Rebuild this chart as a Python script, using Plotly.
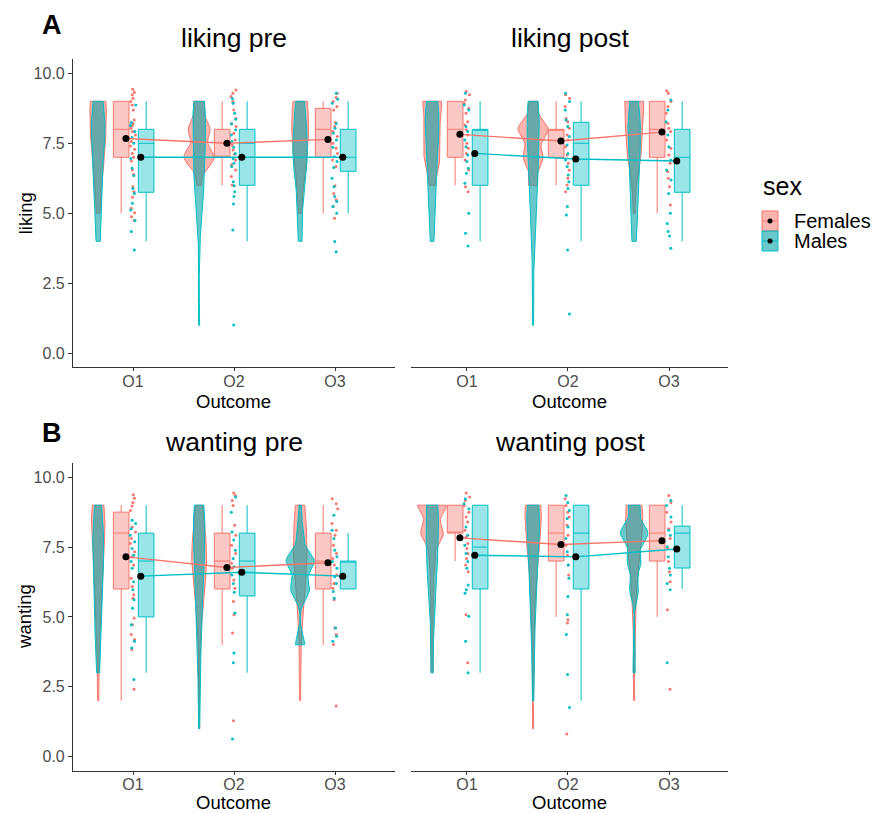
import numpy as np
import plotly.graph_objects as go

# ---------------- data ----------------
outcomes = ["O1", "O2", "O3"]
levels = [1, 2, 3, 4, 5, 6, 7, 8, 9]
panel_titles = ["liking pre", "liking post", "wanting pre", "wanting post"]
y_titles = ["liking", "wanting"]
y_tick_vals = [0, 2.5, 5, 7.5, 10]
y_tick_text = ["0.0", "2.5", "5.0", "7.5", "10.0"]

# rating counts (values 1..9) per outcome -> used for the violins
liking_pre_counts_f = [[0, 0, 0, 0, 2, 4, 8, 10, 11], [0, 0, 0, 0, 0, 2, 14, 10, 5], [0, 0, 0, 0, 2, 3, 8, 10, 9]]
liking_pre_counts_m = [[0, 0, 0, 3, 4, 5, 6, 10, 7], [1, 0, 0, 1, 3, 7, 7, 9, 8], [0, 0, 0, 3, 2, 5, 10, 8, 6]]
liking_post_counts_f = [[0, 0, 0, 0, 0, 3, 10, 9, 12], [0, 0, 0, 0, 0, 4, 9, 14, 4], [0, 0, 0, 0, 1, 2, 8, 10, 12]]
liking_post_counts_m = [[0, 0, 0, 3, 3, 6, 6, 10, 9], [1, 0, 1, 2, 3, 6, 7, 8, 8], [0, 0, 0, 3, 4, 5, 7, 8, 6]]
wanting_pre_counts_f = [[0, 1, 1, 1, 2, 4, 5, 9, 9], [1, 0, 0, 1, 2, 6, 9, 7, 4], [0, 1, 0, 1, 2, 5, 8, 7, 6]]
wanting_pre_counts_m = [[0, 0, 2, 3, 5, 5, 7, 7, 5], [1, 0, 2, 2, 3, 5, 6, 7, 7], [0, 0, 0, 4, 0, 8, 12, 3, 1]]
wanting_post_counts_f = [[0, 0, 1, 1, 1, 2, 3, 11, 14], [1, 0, 0, 1, 2, 2, 6, 8, 12], [0, 1, 0, 0, 2, 2, 6, 9, 12]]
wanting_post_counts_m = [[0, 0, 2, 1, 2, 5, 7, 7, 10], [0, 1, 1, 2, 2, 4, 5, 8, 10], [0, 0, 1, 1, 0, 4, 6, 12, 5]]

# box statistics per outcome: q1, median, q3, lower whisker, upper whisker
liking_pre_box_f = dict(q1=[7, 7, 7], med=[8, 7, 8], q3=[9, 8, 8.75], lo=[5, 6, 5], hi=[9, 9, 9])
liking_pre_box_m = dict(q1=[5.75, 6, 6.5], med=[7.5, 7.5, 7], q3=[8, 8, 8], lo=[4, 4, 5], hi=[9, 9, 9])
liking_post_box_f = dict(q1=[7, 7, 7], med=[8, 8, 8], q3=[9, 8, 9], lo=[6, 6, 5], hi=[9, 9, 9])
liking_post_box_m = dict(q1=[6, 6, 5.75], med=[8, 7.5, 7], q3=[8, 8.25, 8], lo=[4, 4, 4], hi=[9, 9, 9])
wanting_pre_box_f = dict(q1=[6, 6, 6], med=[8, 7, 7], q3=[8.75, 8, 8], lo=[2, 4, 4], hi=[9, 9, 9])
wanting_pre_box_m = dict(q1=[5, 5.75, 6], med=[7, 7, 7], q3=[8, 8, 7], lo=[3, 3, 6], hi=[9, 9, 8])
wanting_post_box_f = dict(q1=[8, 7, 7], med=[8, 8, 8], q3=[9, 9, 9], lo=[7, 5, 5], hi=[9, 9, 9])
wanting_post_box_m = dict(q1=[6, 6, 6.75], med=[7.5, 8, 8], q3=[9, 9, 8.25], lo=[3, 2, 6], hi=[9, 9, 9])

# group means
liking_pre_mean_f = [7.67, 7.50, 7.64]
liking_pre_mean_m = [7.00, 7.00, 7.00]
liking_post_mean_f = [7.82, 7.58, 7.90]
liking_post_mean_m = [7.14, 6.94, 6.87]
wanting_pre_mean_f = [7.15, 6.77, 6.94]
wanting_pre_mean_m = [6.46, 6.60, 6.46]
wanting_post_mean_f = [7.83, 7.59, 7.73]
wanting_post_mean_m = [7.21, 7.15, 7.43]

# jittered raw points (y values as read)
liking_pre_pts_f = [
    [9.43, 9.32, 9.23, 9.11, 8.99, 8.87, 8.69, 8.33, 8.21, 8.13, 8.04, 7.92, 7.8, 7.56, 7.4, 7.29, 7.14, 7.0, 6.87, 6.55, 6.39, 5.95, 5.77, 5.57, 5.18, 5.02, 4.88, 4.74],
    [9.4, 9.29, 9.17, 8.99, 8.69, 8.39, 8.21, 8.1, 7.86, 7.62, 7.44, 7.26, 7.11, 6.9, 6.73, 6.55, 6.31, 6.01],
    [9.29, 9.14, 8.99, 8.81, 8.69, 8.24, 8.1, 7.92, 7.74, 7.5, 7.32, 7.14, 6.9, 6.67, 5.98, 5.71, 5.48, 5.24, 4.82]]
liking_pre_pts_m = [
    [8.87, 8.24, 8.14, 7.92, 7.71, 7.5, 6.96, 6.61, 6.35, 5.89, 5.71, 5.36, 5.12, 4.74, 4.35, 3.69],
    [9.1, 8.93, 8.57, 8.36, 8.19, 7.98, 7.8, 7.56, 7.36, 7.14, 6.95, 6.79, 6.67, 6.13, 5.98, 5.77, 5.6, 5.33, 4.4, 1.01],
    [9.29, 9.07, 8.93, 8.21, 8.04, 7.86, 7.62, 7.36, 7.02, 6.85, 6.64, 6.25, 5.95, 5.6, 5.42, 5.24, 5.0, 3.99, 3.63]]
liking_post_pts_f = [
    [9.35, 9.23, 9.05, 8.93, 8.75, 8.57, 8.27, 8.15, 7.98, 7.8, 7.5, 7.32, 7.14, 6.9, 6.55, 5.95, 5.77],
    [9.23, 9.11, 8.81, 8.39, 8.27, 8.04, 7.8, 7.62, 7.38, 7.08, 6.79, 6.55, 6.25, 6.01, 5.77],
    [9.38, 9.29, 8.99, 8.81, 8.57, 8.21, 8.04, 7.92, 7.62, 7.32, 7.08, 6.79, 6.49, 6.25, 5.95, 5.3]]
liking_post_pts_m = [
    [9.29, 8.87, 8.69, 8.1, 7.92, 7.62, 7.38, 7.08, 6.85, 6.61, 6.43, 6.07, 5.0, 4.29, 3.83],
    [9.29, 8.99, 8.69, 8.33, 8.1, 7.74, 7.44, 7.14, 6.9, 6.67, 6.37, 6.13, 5.89, 5.24, 4.94, 3.69, 1.4],
    [9.05, 8.69, 8.27, 7.8, 7.38, 6.9, 6.55, 6.19, 5.71, 5.0, 4.64, 4.35, 4.19, 3.75]]
wanting_pre_pts_f = [
    [9.37, 9.25, 9.1, 8.97, 8.81, 8.22, 8.04, 7.81, 7.63, 7.33, 7.15, 6.86, 6.38, 6.09, 5.79, 5.67, 4.96, 4.72, 4.37, 4.19, 3.83, 2.41],
    [9.44, 9.35, 9.17, 8.99, 8.28, 7.92, 7.57, 7.27, 6.92, 6.74, 6.32, 6.03, 5.55, 5.08, 4.42, 1.28],
    [9.23, 9.05, 8.87, 8.34, 8.1, 7.92, 7.57, 7.27, 7.09, 6.86, 6.5, 6.2, 6.03, 5.61, 4.6, 4.37, 4.01, 1.81]]
wanting_pre_pts_m = [
    [8.46, 8.34, 8.16, 7.92, 7.69, 7.45, 7.21, 6.98, 6.74, 6.26, 5.97, 5.61, 5.31, 4.72, 4.13, 3.89, 2.76],
    [9.29, 8.75, 8.04, 7.75, 7.39, 7.09, 6.8, 6.5, 6.2, 5.88, 5.14, 3.71, 3.36, 0.63],
    [8.64, 8.1, 7.81, 7.39, 7.15, 6.98, 6.74, 6.44, 6.2, 5.91, 5.67, 4.6, 4.31, 4.13]]
wanting_post_pts_f = [
    [9.44, 9.29, 9.17, 8.99, 8.75, 8.58, 8.4, 8.1, 7.86, 7.63, 7.45, 7.27, 7.09, 6.86, 6.62, 5.08, 3.36],
    [9.23, 8.99, 8.75, 8.58, 8.28, 7.92, 7.57, 7.21, 6.86, 6.5, 4.9, 4.78, 0.81],
    [9.35, 9.1, 8.75, 8.4, 8.16, 7.81, 7.45, 6.98, 6.62, 6.26, 5.26, 2.41]]
wanting_post_pts_m = [
    [9.23, 9.05, 8.87, 8.22, 7.92, 7.57, 7.27, 6.98, 6.74, 6.14, 5.97, 5.85, 5.02, 4.13, 3.0],
    [9.35, 9.1, 8.81, 8.52, 8.22, 7.81, 7.33, 6.86, 6.38, 5.73, 5.08, 4.37, 2.94, 1.76],
    [9.17, 8.99, 8.58, 8.1, 7.92, 7.51, 7.15, 6.74, 6.5, 6.2, 5.97, 3.36]]

# ---------------- styling ----------------
W, H = 888, 813
FONT = "Liberation Sans, Arial, sans-serif"
COL_F = "#F8766D"
COL_M = "#00BFC4"
VIO_F = "rgba(248,118,109,0.55)"
VIO_M = "rgba(0,160,163,0.58)"
BOX_F = "rgba(248,118,109,0.40)"
BOX_M = "rgba(0,191,196,0.40)"

VIOLIN_NUDGE = -0.345
BOX_NUDGE_F, BOX_NUDGE_M = -0.117, 0.13
MEAN_NUDGE_F, MEAN_NUDGE_M = -0.07, 0.077
BOX_WIDTH = 0.155
VIOLIN_HALF = 0.15


def px(x):
    return x / W


def py(y):
    return 1 - y / H


# panel geometry (pixels in the 888x813 picture)
panels = [
    dict(title=panel_titles[0], counts=(liking_pre_counts_f, liking_pre_counts_m),
         box=(liking_pre_box_f, liking_pre_box_m), mean=(liking_pre_mean_f, liking_pre_mean_m),
         pts=(liking_pre_pts_f, liking_pre_pts_m), xpx=(73, 395), ypx=(59.3, 367.3), xr=(0.406, 3.594),
         left=True, out_y=401),
    dict(title=panel_titles[1], counts=(liking_post_counts_f, liking_post_counts_m),
         box=(liking_post_box_f, liking_post_box_m), mean=(liking_post_mean_f, liking_post_mean_m),
         pts=(liking_post_pts_f, liking_post_pts_m), xpx=(411, 728), ypx=(59.3, 367.3), xr=(0.446, 3.584),
         left=False, out_y=401),
    dict(title=panel_titles[2], counts=(wanting_pre_counts_f, wanting_pre_counts_m),
         box=(wanting_pre_box_f, wanting_pre_box_m), mean=(wanting_pre_mean_f, wanting_pre_mean_m),
         pts=(wanting_pre_pts_f, wanting_pre_pts_m), xpx=(73, 395), ypx=(463.3, 770.5), xr=(0.406, 3.594),
         left=True, out_y=802.5),
    dict(title=panel_titles[3], counts=(wanting_post_counts_f, wanting_post_counts_m),
         box=(wanting_post_box_f, wanting_post_box_m), mean=(wanting_post_mean_f, wanting_post_mean_m),
         pts=(wanting_post_pts_f, wanting_post_pts_m), xpx=(411, 728), ypx=(463.3, 770.5), xr=(0.446, 3.584),
         left=False, out_y=802.5),
]


def nrd0(v):
    sd = np.std(v, ddof=1)
    q75, q25 = np.percentile(v, [75, 25])
    lo = min(sd, (q75 - q25) / 1.34)
    if lo <= 0:
        lo = sd if sd > 0 else 1.0
    return 0.9 * lo * len(v) ** (-0.2)


def kde(counts):
    v = np.repeat(np.array(levels, dtype=float), counts)
    bw = nrd0(v)
    grid = np.linspace(v.min(), v.max(), 512)
    d = np.exp(-0.5 * ((grid[:, None] - v[None, :]) / bw) ** 2).sum(1) / (len(v) * bw * np.sqrt(2 * np.pi))
    return grid, d


# densities for all violins (area scaling: common max)
dens = {}
for pi, p in enumerate(panels):
    for si in range(2):
        for oi in range(3):
            dens[(pi, si, oi)] = kde(p["counts"][si][oi])
dmax = max(d.max() for _, d in dens.values())

fig = go.Figure()
layout_axes = {}
for pi, p in enumerate(panels):
    n = "" if pi == 0 else str(pi + 1)
    xa, ya = "x" + n, "y" + n
    xpos = np.arange(1, 4)

    # violins
    for si, (fill, col) in enumerate([(VIO_F, COL_F), (VIO_M, COL_M)]):
        for oi in range(3):
            g, d = dens[(pi, si, oi)]
            hw = d / dmax * VIOLIN_HALF
            c = xpos[oi] + VIOLIN_NUDGE
            xs = np.concatenate([c - hw, (c + hw)[::-1], [c - hw[0]]])
            ys = np.concatenate([g, g[::-1], [g[0]]])
            fig.add_trace(go.Scatter(x=xs, y=ys, mode="lines", fill="toself", fillcolor=fill,
                                     line=dict(color=col, width=1), xaxis=xa, yaxis=ya,
                                     showlegend=False, hoverinfo="skip"))
    # boxes
    for si, (fill, col, nud) in enumerate([(BOX_F, COL_F, BOX_NUDGE_F), (BOX_M, COL_M, BOX_NUDGE_M)]):
        b = p["box"][si]
        fig.add_trace(go.Box(x=list(xpos + nud), q1=b["q1"], median=b["med"], q3=b["q3"],
                             lowerfence=b["lo"], upperfence=b["hi"], width=BOX_WIDTH,
                             fillcolor=fill, line=dict(color=col, width=1), whiskerwidth=0,
                             boxpoints=False, xaxis=xa, yaxis=ya, showlegend=False, hoverinfo="skip"))
    # jittered points
    for si, col in enumerate([COL_F, COL_M]):
        xs, ys = [], []
        for oi in range(3):
            ys += p["pts"][si][oi]
            xs += [int(xpos[oi])] * len(p["pts"][si][oi])
        fig.add_trace(go.Box(x=xs, y=ys, boxpoints="all", jitter=1, pointpos=0, width=0.06,
                             fillcolor="rgba(0,0,0,0)", line=dict(color="rgba(0,0,0,0)", width=0),
                             marker=dict(color=col, size=3), xaxis=xa, yaxis=ya,
                             showlegend=False, hoverinfo="skip"))
    # mean lines and points
    for si, (col, nud) in enumerate([(COL_F, MEAN_NUDGE_F), (COL_M, MEAN_NUDGE_M)]):
        fig.add_trace(go.Scatter(x=list(xpos + nud), y=p["mean"][si], mode="lines+markers",
                                 line=dict(color=col, width=1.4),
                                 marker=dict(color="black", size=7),
                                 xaxis=xa, yaxis=ya, showlegend=False, hoverinfo="skip"))

    layout_axes["xaxis" + n] = dict(
        domain=[px(p["xpx"][0]), px(p["xpx"][1])], range=list(p["xr"]), anchor=ya,
        tickvals=[1, 2, 3], ticktext=outcomes, showline=True, linecolor="#333333", linewidth=1.1,
        ticks="outside", ticklen=3, tickcolor="#333333", tickwidth=1, ticklabelstandoff=-4,
        tickfont=dict(size=16, color="#4D4D4D", family=FONT), showgrid=False, zeroline=False, fixedrange=True)
    layout_axes["yaxis" + n] = dict(
        domain=[py(p["ypx"][1]), py(p["ypx"][0])], range=[-0.5, 10.5], anchor=xa,
        tickvals=y_tick_vals, ticktext=y_tick_text, showline=p["left"], linecolor="#333333", linewidth=1.1,
        ticks="outside" if p["left"] else "", ticklen=4, tickcolor="#333333", tickwidth=1,
        showticklabels=p["left"], tickfont=dict(size=16, color="#4D4D4D", family=FONT),
        showgrid=False, zeroline=False, fixedrange=True)

annotations = []
# panel titles and x-axis titles
for p in panels:
    cx = (p["xpx"][0] + p["xpx"][1]) / 2
    annotations.append(dict(text=p["title"], x=px(cx), y=py(p["ypx"][0] - 21), xref="paper", yref="paper",
                            showarrow=False, xanchor="center", yanchor="middle",
                            font=dict(size=26.5, color="black", family=FONT)))
    annotations.append(dict(text="Outcome", x=px(cx), y=py(p["out_y"]), xref="paper", yref="paper",
                            showarrow=False, xanchor="center", yanchor="middle", borderpad=0,
                            font=dict(size=18.5, color="black", family=FONT)))
# y titles
for ytxt, p in zip(y_titles, [panels[0], panels[2]]):
    cy = (p["ypx"][0] + p["ypx"][1]) / 2
    annotations.append(dict(text=ytxt, x=px(25), y=py(cy), xref="paper", yref="paper", textangle=-90,
                            showarrow=False, xanchor="center", yanchor="middle",
                            font=dict(size=18.5, color="black", family=FONT)))
# panel tags
for tag, yy in [("A", 25), ("B", 433)]:
    annotations.append(dict(text="<b>" + tag + "</b>", x=px(52), y=py(yy), xref="paper", yref="paper",
                            showarrow=False, xanchor="center", yanchor="middle",
                            font=dict(size=27, color="black", family=FONT)))
# legend (manual)
legend_labels = ["Females", "Males"]
annotations.append(dict(text="sex", x=px(761), y=py(186), xref="paper", yref="paper", showarrow=False,
                        xanchor="left", yanchor="middle", font=dict(size=25, color="black", family=FONT)))
shapes = []
for i, (lab, col, fill) in enumerate(zip(legend_labels, [COL_F, COL_M], [VIO_F, VIO_M])):
    y0 = 211 + 20 * i
    annotations.append(dict(text=lab, x=px(792), y=py(y0 + 10.5), xref="paper", yref="paper", showarrow=False,
                            xanchor="left", yanchor="middle", font=dict(size=20, color="black", family=FONT)))
    shapes.append(dict(type="rect", xref="paper", yref="paper", x0=px(762), x1=px(778), y0=py(y0), y1=py(y0 + 20),
                       fillcolor=fill, line=dict(color=col, width=1)))
    shapes.append(dict(type="line", xref="paper", yref="paper", x0=px(763), x1=px(777), y0=py(y0 + 10), y1=py(y0 + 10),
                       line=dict(color=col, width=1)))
    shapes.append(dict(type="circle", xref="paper", yref="paper", x0=px(767.5), x1=px(772.5), y0=py(y0 + 7.5),
                       y1=py(y0 + 12.5), fillcolor="black", line=dict(color="black", width=0)))

fig.update_layout(
    width=W, height=H, margin=dict(l=0, r=0, t=0, b=0, pad=0),
    paper_bgcolor="white", plot_bgcolor="white", showlegend=False,
    font=dict(family=FONT), annotations=annotations, shapes=shapes, boxmode="overlay",
    **layout_axes)

fig.write_html("out.html")
